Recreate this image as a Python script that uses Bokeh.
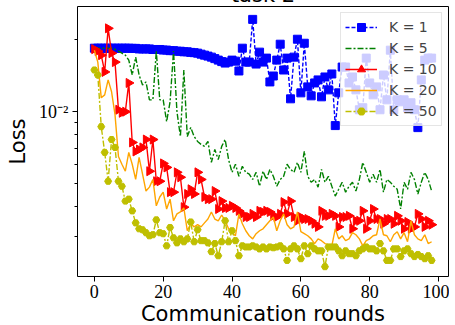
import math
from bokeh.plotting import figure
from bokeh.models import (Range1d, FixedTicker, CustomJSTickFormatter, Legend,
                          LegendItem)
from bokeh.embed import file_html
from bokeh.resources import INLINE

rounds = list(range(99))

k1_loss = [
    0.01843, 0.01843, 0.01843, 0.01843, 0.01843, 0.01843, 0.01843, 0.01843, 0.01843, 0.01843,
    0.01843, 0.0184, 0.0184, 0.0183, 0.0183, 0.0183, 0.0183, 0.0182, 0.0182, 0.0182,
    0.0181, 0.0181, 0.0180, 0.0180, 0.0179, 0.0179, 0.0178, 0.0178, 0.0177, 0.01765,
    0.01757, 0.0174, 0.01724, 0.01708, 0.01691, 0.01667, 0.01643, 0.0162, 0.01597, 0.01612,
    0.01643, 0.01627, 0.0148, 0.01843, 0.01612, 0.01612, 0.02432, 0.01582, 0.01774, 0.01612,
    0.01675, 0.01332, 0.0141, 0.01643, 0.01915, 0.01494, 0.01675, 0.01132, 0.01691, 0.02009,
    0.01199, 0.01933, 0.0127, 0.01165, 0.01319, 0.01358, 0.01154, 0.01397, 0.01234, 0.01438,
    0.00875, 0.01199, 0.01537, 0.01537, 0.01319, 0.01397, 0.01234, 0.01019, 0.01039, 0.01675,
    0.01319, 0.01176, 0.0127, 0.01019, 0.01424, 0.01121, 0.01808, 0.01019, 0.01121, 0.011,
    0.01121, 0.01039, 0.0109, 0.01019, 0.00858, 0.01358, 0.01643, 0.01675, 0.01675,
]

k5_loss = [
    0.01843, 0.01843, 0.01843, 0.01843, 0.01843, 0.01843, 0.01825, 0.01791, 0.01757, 0.01724,
    0.01643, 0.01424, 0.01691, 0.01424, 0.01294, 0.01332, 0.01121, 0.01121, 0.01791, 0.01121,
    0.01121, 0.00909, 0.011, 0.01791, 0.01, 0.00787, 0.01494, 0.00787, 0.00858, 0.00787,
    0.00751, 0.0073, 0.00716, 0.00751, 0.00614, 0.00695, 0.00631, 0.00716, 0.00765, 0.00631,
    0.00558, 0.00603, 0.00537, 0.00591, 0.00558, 0.00548, 0.00521, 0.00558, 0.00488, 0.00564,
    0.00521, 0.00574, 0.00537, 0.00488, 0.00521, 0.00537, 0.00603, 0.00574, 0.00558, 0.00614,
    0.00558, 0.00682, 0.00537, 0.00507, 0.00521, 0.00484, 0.00574, 0.00507, 0.00537, 0.00488,
    0.00444, 0.00474, 0.00507, 0.00461, 0.00488, 0.00507, 0.00466, 0.00521, 0.00614, 0.00558,
    0.00507, 0.00548, 0.00507, 0.00574, 0.00461, 0.00521, 0.00507, 0.00488, 0.00474, 0.00392,
    0.00507, 0.00474, 0.00558, 0.00521, 0.00453, 0.00507, 0.00558, 0.00521, 0.00466,
]

k10_loss = [
    0.01826, 0.01791, 0.01724, 0.01466, 0.02231, 0.01757, 0.01612, 0.01019, 0.0099, 0.01,
    0.01319, 0.00744, 0.00682, 0.00695, 0.00709, 0.00765, 0.00564, 0.00765, 0.00512, 0.00512,
    0.00608, 0.00585, 0.00461, 0.00461, 0.00558, 0.00532, 0.00399, 0.00453, 0.00474, 0.00453,
    0.00558, 0.00521, 0.0044, 0.00431, 0.00431, 0.00466, 0.00392, 0.00423, 0.00396, 0.00396,
    0.00404, 0.00396, 0.00385, 0.00374, 0.00363, 0.00363, 0.00374, 0.00363, 0.00385, 0.00381,
    0.00385, 0.00381, 0.00367, 0.00363, 0.00374, 0.00419, 0.00374, 0.00423, 0.00363, 0.0035,
    0.00363, 0.00356, 0.00356, 0.0035, 0.0034, 0.0033, 0.00385, 0.00367, 0.00367, 0.00374,
    0.00367, 0.0033, 0.00363, 0.00363, 0.00367, 0.00324, 0.0035, 0.0035, 0.00385, 0.00324,
    0.0035, 0.00392, 0.00356, 0.00356, 0.0034, 0.00356, 0.00356, 0.0034, 0.00367, 0.0035,
    0.00324, 0.00346, 0.00324, 0.0033, 0.00374, 0.00356, 0.0033, 0.0035, 0.00337,
]

k20_loss = [
    0.01808, 0.01612, 0.01143, 0.01176, 0.01358, 0.01211, 0.00972, 0.0065, 0.00603, 0.00564,
    0.00676, 0.00603, 0.00521, 0.00644, 0.00548, 0.00466, 0.00484, 0.00521, 0.00404, 0.0044,
    0.00461, 0.00392, 0.00431, 0.0035, 0.00374, 0.00381, 0.00396, 0.00318, 0.0034, 0.0033,
    0.00337, 0.0033, 0.00343, 0.00356, 0.00381, 0.00356, 0.0035, 0.0037, 0.0035, 0.00324,
    0.00312, 0.00303, 0.00374, 0.0034, 0.00318, 0.00303, 0.00294, 0.00309, 0.00318, 0.00324,
    0.00337, 0.0035, 0.00363, 0.00318, 0.0035, 0.00374, 0.00337, 0.00324, 0.0033, 0.00381,
    0.00315, 0.00309, 0.00303, 0.00294, 0.00281, 0.00294, 0.00289, 0.00281, 0.00278, 0.00275,
    0.00324, 0.00294, 0.00303, 0.00289, 0.00294, 0.00312, 0.00306, 0.00294, 0.00275, 0.00289,
    0.00294, 0.00303, 0.00306, 0.00356, 0.00306, 0.00303, 0.00286, 0.00306, 0.00315, 0.00294,
    0.00312, 0.00286, 0.0035, 0.00306, 0.00294, 0.00289, 0.00306, 0.00281, 0.00286,
]

k50_loss = [
    0.01494, 0.01424, 0.00866, 0.00676, 0.00512, 0.00765, 0.00709, 0.00512, 0.00488, 0.00423,
    0.00431, 0.00385, 0.00343, 0.00324, 0.00321, 0.00312, 0.00303, 0.00306, 0.00353, 0.00312,
    0.00309, 0.00275, 0.00328, 0.00297, 0.00283, 0.00294, 0.00286, 0.00294, 0.00346, 0.00286,
    0.00321, 0.00289, 0.00289, 0.00283, 0.0026, 0.00281, 0.0025, 0.00286, 0.0035, 0.00286,
    0.00318, 0.00289, 0.0025, 0.00275, 0.00272, 0.00272, 0.00275, 0.00272, 0.00267, 0.00272,
    0.00267, 0.00272, 0.0027, 0.00272, 0.00275, 0.00267, 0.00239, 0.00267, 0.00275, 0.00267,
    0.00243, 0.00275, 0.00255, 0.00275, 0.00267, 0.00262, 0.00262, 0.00225, 0.00272, 0.00272,
    0.00272, 0.00262, 0.0025, 0.00262, 0.00255, 0.00255, 0.0025, 0.00262, 0.00267, 0.00272,
    0.00267, 0.00267, 0.00262, 0.00281, 0.00262, 0.00239, 0.00239, 0.00267, 0.00267, 0.00248,
    0.00262, 0.00267, 0.00255, 0.00248, 0.00253, 0.00248, 0.00243, 0.0025, 0.00239,
]

x_ticks = [0, 20, 40, 60, 80, 100]
y_major_ticks = [0.01]
y_minor_ticks = [0.003, 0.004, 0.005, 0.006, 0.007, 0.008, 0.009, 0.02]
series_labels = ["K = 1", "K = 5", "K = 10", "K = 20", "K = 50"]

p = figure(width=449, height=352, output_backend="svg", toolbar_location=None,
           y_axis_type="log",
           x_range=Range1d(-4.9, 102.9), y_range=Range1d(0.002047, 0.02753),
           min_border_left=77, min_border_right=1, min_border_top=30,
           min_border_bottom=50)
p.styles = {"position": "relative", "top": "-24px"}
p.background_fill_color = "white"
p.border_fill_color = "white"
p.outline_line_color = "black"
p.outline_line_width = 1
p.xgrid.visible = False
p.ygrid.visible = False

p.title.text = "task 2"
p.title.align = "center"
p.title.text_font = "DejaVu Sans"
p.title.text_font_size = "21px"
p.title.text_font_style = "normal"
p.title.text_color = "black"
p.title.standoff = 0

tick_font = "Liberation Serif"
for ax in (p.xaxis[0], p.yaxis[0]):
    ax.axis_line_color = None
    ax.major_tick_line_color = "black"
    ax.major_tick_out = 5
    ax.major_tick_in = 0
    ax.minor_tick_out = 3
    ax.minor_tick_in = 0
    ax.major_label_text_font = tick_font
    ax.major_label_text_font_size = "18px"
    ax.major_label_text_color = "black"
    ax.axis_label_text_font = "DejaVu Sans"
    ax.axis_label_text_font_size = "21px"
    ax.axis_label_text_font_style = "normal"
    ax.axis_label_text_color = "black"

p.xaxis[0].ticker = FixedTicker(ticks=x_ticks)
p.xaxis[0].minor_tick_line_color = None
p.xaxis[0].major_label_standoff = 3
p.xaxis[0].axis_label = "Communication rounds"
p.xaxis[0].axis_label_standoff = 1

p.yaxis[0].ticker = FixedTicker(ticks=y_major_ticks, minor_ticks=y_minor_ticks)
p.yaxis[0].minor_tick_line_color = "black"
p.yaxis[0].major_label_standoff = 4
p.yaxis[0].formatter = CustomJSTickFormatter(code="return '10\u207b\u00b2';")
p.yaxis[0].axis_label = "Loss"
p.yaxis[0].axis_label_standoff = 6

lw = 1.4
tri_angle = [-math.pi / 2] * len(rounds)
r1l = p.line(rounds, k1_loss, line_color="#0000ff", line_width=lw, line_dash="4 2")
r1m = p.scatter(rounds, k1_loss, marker="square", size=8, fill_color="#0000ff",
                line_color="#0000ff")
r5l = p.line(rounds, k5_loss, line_color="#008000", line_width=lw, line_dash="6 2 2 2")
r10l = p.line(rounds, k10_loss, line_color="#ff0000", line_width=lw)
r10m = p.scatter(rounds, k10_loss, marker="triangle", angle=tri_angle, size=9,
                 fill_color="#ff0000", line_color="#ff0000")
r20l = p.line(rounds, k20_loss, line_color="#ffa500", line_width=lw)
r50l = p.line(rounds, k50_loss, line_color="#bfbf00", line_width=lw, line_dash="6 2 2 2")
r50m = p.scatter(rounds, k50_loss, marker="hex", size=7, fill_color="#bfbf00",
                 line_color="#bfbf00")

legend = Legend(items=[
    LegendItem(label=series_labels[0], renderers=[r1l, r1m]),
    LegendItem(label=series_labels[1], renderers=[r5l]),
    LegendItem(label=series_labels[2], renderers=[r10l, r10m]),
    LegendItem(label=series_labels[3], renderers=[r20l]),
    LegendItem(label=series_labels[4], renderers=[r50l, r50m]),
], location=(263, 150), margin=0, padding=4, spacing=1,
    glyph_width=32, glyph_height=20, label_height=20, label_standoff=12,
    label_text_font="DejaVu Sans", label_text_font_size="14px",
    background_fill_color="white", background_fill_alpha=0.8,
    border_line_color="#cccccc", border_line_width=1)
p.add_layout(legend)

open("out.html", "w").write(file_html(p, INLINE))
